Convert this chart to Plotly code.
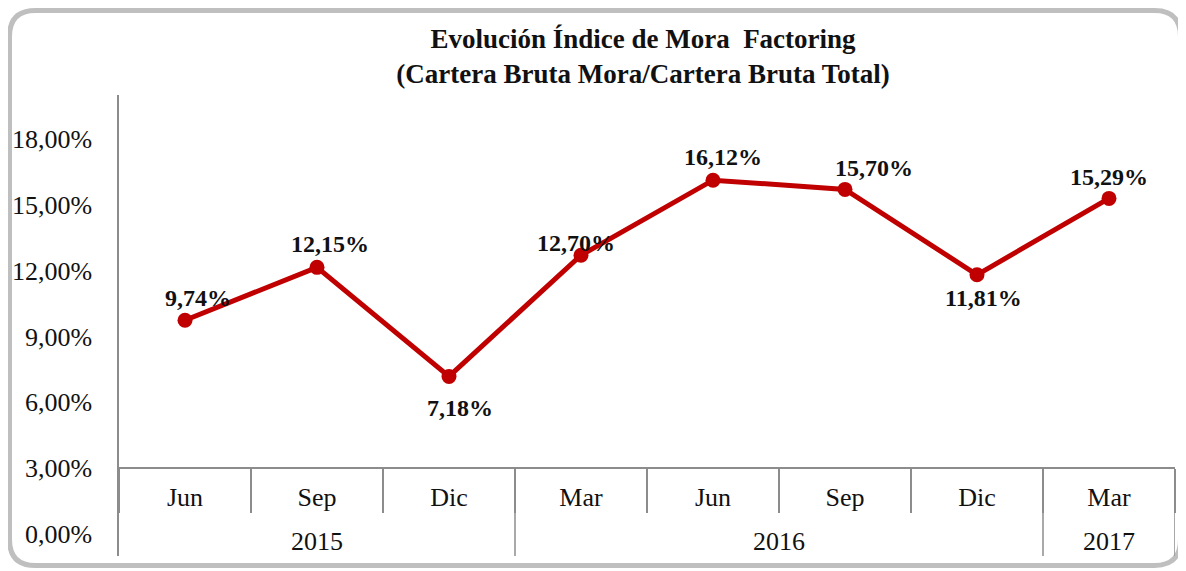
import plotly.graph_objects as go

# data
years = ["2015", "2015", "2015", "2016", "2016", "2016", "2016", "2017"]
months = ["Jun", "Sep", "Dic", "Mar", "Jun", "Sep", "Dic", "Mar"]
mora = [9.74, 12.15, 7.18, 12.70, 16.12, 15.70, 11.81, 15.29]
y_ticks = [0, 3, 6, 9, 12, 15, 18]

# label offsets in px (dx, dy), tuned to the original layout
label_offsets = [(13, 22), (13, 23), (11, -32), (-5, 12),
                 (10, 23), (29, 21), (6, -23), (0, 21)]

y_min, y_max = -1.0, 20.0
x_axis_at = 3  # category axis crosses the value axis at 3%
axis_pos = (x_axis_at - y_min) / (y_max - y_min)
FONT = "Liberation Serif"
GRAY = "#8C8C8C"
TXT = "#111111"

def pct(v):
    return f"{v:.2f}%".replace(".", ",")

xs = list(range(len(mora)))

fig = go.Figure()
fig.add_trace(go.Scatter(
    x=xs, y=mora,
    mode="lines+markers",
    line=dict(color="#C00000", width=5),
    marker=dict(color="#C00000", size=15),
    cliponaxis=False,
    showlegend=False,
))

# data labels
for i, v in enumerate(mora):
    dx, dy = label_offsets[i]
    fig.add_annotation(x=i, y=v, text=f"<b>{pct(v)}</b>", showarrow=False,
                       xshift=dx, yshift=dy,
                       font=dict(family=FONT, size=24, color=TXT))

# year groups: label and dividers
groups = []
for i, yr in enumerate(years):
    if groups and groups[-1][0] == yr:
        groups[-1][2] = i
    else:
        groups.append([yr, i, i])

shapes = []
for yr, a, b in groups:
    fig.add_annotation(x=(a + b) / 2, y=axis_pos, xref="x", yref="paper",
                       text=yr, showarrow=False, yshift=-73, yanchor="middle",
                       font=dict(family=FONT, size=26, color=TXT))
    shapes.append(dict(type="line", xref="x", yref="paper",
                       x0=b + 0.5, x1=b + 0.5, y0=0, y1=axis_pos,
                       line=dict(color=GRAY, width=1.5)))

# page body adds an 8px margin, so the figure is laid out 8px up/left
W, H = 1178, 563
ml, mr, mt, mb = 111, 11, 87, 15
pw, ph = W - ml - mr, H - mt - mb

def px_x(p):
    return (p - ml) / pw

def px_y(p):
    return (H - mb - p) / ph

# rounded border around the whole chart
x0, x1, y0, y1 = px_x(1.5), px_x(1172.5), px_y(557.5), px_y(2.5)
rx, ry = 26 / pw, 26 / ph
border = (f"M {x0+rx},{y1} L {x1-rx},{y1} Q {x1},{y1} {x1},{y1-ry} "
          f"L {x1},{y0+ry} Q {x1},{y0} {x1-rx},{y0} L {x0+rx},{y0} "
          f"Q {x0},{y0} {x0},{y0+ry} L {x0},{y1-ry} Q {x0},{y1} {x0+rx},{y1} Z")
shapes.append(dict(type="path", path=border, xref="paper", yref="paper",
                   line=dict(color="#BFBFBF", width=5), layer="below"))

fig.update_layout(
    width=W, height=H,
    margin=dict(l=ml, r=mr, t=mt, b=mb, autoexpand=False),
    paper_bgcolor="white", plot_bgcolor="white",
    font=dict(family=FONT, size=26, color=TXT),
    title=dict(
        text="<b>Evolución Índice de Mora  Factoring<br>(Cartera Bruta Mora/Cartera Bruta Total)</b>",
        x=635 / W, xanchor="center", y=1 - 40 / H, yanchor="middle",
        font=dict(family=FONT, size=27, color=TXT),
    ),
    shapes=shapes,
)

fig.update_xaxes(
    range=[-0.5, len(mora) - 0.5],
    anchor="free", position=axis_pos,
    tickmode="array", tickvals=xs, ticktext=months,
    ticks="", ticklabelstandoff=6,
    minor=dict(tickmode="array", tickvals=[i - 0.5 for i in range(len(mora) + 1)],
               ticks="outside", ticklen=44, tickcolor=GRAY, tickwidth=1.5),
    showline=True, linecolor=GRAY, linewidth=1.5,
    showgrid=False, zeroline=False, automargin=False,
    tickfont=dict(family=FONT, size=26, color=TXT),
)
fig.update_yaxes(
    range=[y_min, y_max],
    tickvals=y_ticks, ticktext=[pct(t) for t in y_ticks],
    ticklabelstandoff=20,
    showline=True, linecolor=GRAY, linewidth=1.5,
    showgrid=False, zeroline=False, ticks="", automargin=False,
    tickfont=dict(family=FONT, size=26, color=TXT),
)

fig.write_html("out.html")
